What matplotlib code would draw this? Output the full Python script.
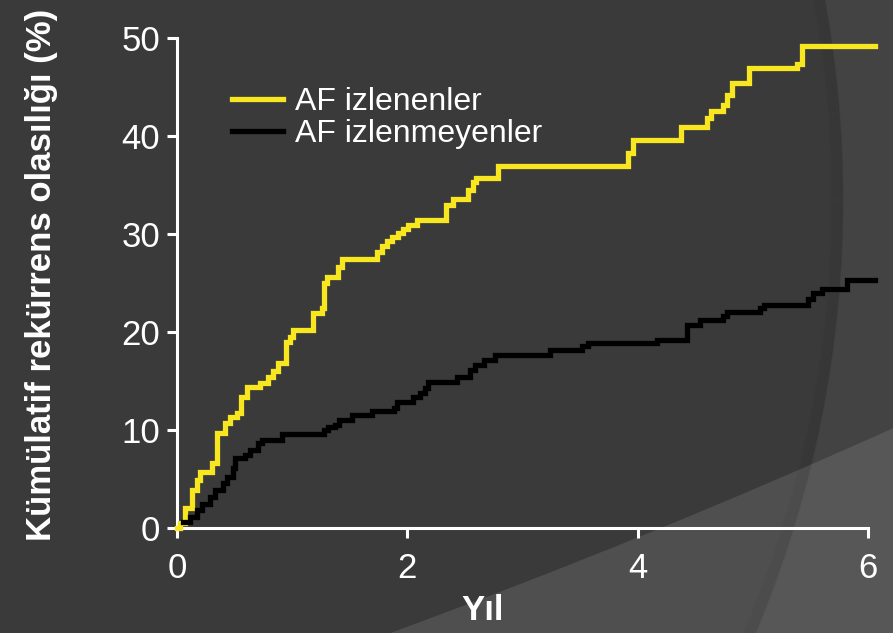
import matplotlib
matplotlib.use("Agg")
import matplotlib.pyplot as plt
from matplotlib.patches import Circle, PathPatch
from matplotlib.path import Path
from matplotlib.transforms import IdentityTransform

plt.rcParams['font.family'] = ['Liberation Sans', 'DejaVu Sans']

# ---- data ----
years_monitored = [0.0, 0.03, 0.07, 0.13, 0.17, 0.20, 0.30, 0.35, 0.42, 0.46, 0.52, 0.56, 0.61,
                   0.72, 0.79, 0.83, 0.88, 0.95, 0.98, 1.01, 1.18, 1.26, 1.28, 1.30, 1.40, 1.43,
                   1.74, 1.78, 1.82, 1.87, 1.92, 1.96, 2.01, 2.08, 2.34, 2.40, 2.53, 2.57, 2.60,
                   2.79, 3.92, 3.96, 4.38, 4.60, 4.64, 4.74, 4.78, 4.82, 4.97, 5.38, 5.43, 6.06]
risk_monitored = [0.0, 0.5, 2.0, 3.9, 4.9, 5.7, 6.6, 9.7, 10.7, 11.3, 11.7, 13.4, 14.4,
                  14.8, 15.4, 16.0, 16.8, 19.0, 19.5, 20.2, 21.9, 22.4, 25.0, 25.6, 26.6, 27.4,
                  28.2, 28.8, 29.3, 29.7, 30.1, 30.5, 30.9, 31.4, 33.0, 33.6, 34.5, 35.3, 35.7,
                  36.9, 38.3, 39.6, 40.9, 41.8, 42.5, 43.2, 44.2, 45.4, 46.9, 47.3, 49.2, 49.2]

years_unmonitored = [0.05, 0.11, 0.17, 0.22, 0.29, 0.33, 0.40, 0.43, 0.49, 0.50, 0.59, 0.63,
                     0.70, 0.74, 0.91, 1.28, 1.31, 1.37, 1.41, 1.52, 1.69, 1.88, 1.91, 2.05,
                     2.11, 2.15, 2.18, 2.43, 2.54, 2.59, 2.67, 2.76, 3.24, 3.52, 3.57, 4.17,
                     4.43, 4.54, 4.74, 4.78, 5.06, 5.10, 5.48, 5.52, 5.60, 5.82, 6.06]
risk_unmonitored = [0.6, 1.1, 1.8, 2.5, 3.2, 3.9, 4.6, 5.2, 6.1, 7.1, 7.4, 8.0,
                    8.7, 9.0, 9.6, 10.0, 10.3, 10.5, 11.0, 11.5, 11.9, 12.2, 12.9, 13.4,
                    13.8, 14.3, 14.9, 15.4, 16.1, 16.6, 17.1, 17.7, 18.2, 18.6, 18.9, 19.2,
                    20.7, 21.2, 21.6, 22.0, 22.4, 22.8, 23.4, 24.0, 24.4, 25.3, 25.3]

series_labels = ["AF izlenenler", "AF izlenmeyenler"]
x_ticks = [0, 2, 4, 6]
y_ticks = [0, 10, 20, 30, 40, 50]
x_label = "Yıl"
y_label = "Kümülatif rekürrens olasılığı (%)"

W, H = 893, 633
fig = plt.figure(figsize=(W / 100, H / 100), dpi=100, facecolor='#434343')

# ---- decorative background ----
idt = IdentityTransform()
cx, cy, R = -274, H - 200, 1117
fig.patches.append(Circle((cx, cy), R, transform=idt, facecolor='#3a3a3a',
                          edgecolor='none', zorder=-10))
for i in range(8):
    fig.patches.append(Circle((cx, cy), R - 1.5 * i, transform=idt, facecolor='none',
                              edgecolor='black', linewidth=1.5, alpha=0.03, zorder=-9))
wedge = Path([(385, -2), (650, 95), (W + 5, 207), (W + 5, -2), (385, -2)],
             [Path.MOVETO, Path.CURVE3, Path.CURVE3, Path.LINETO, Path.CLOSEPOLY])
fig.patches.append(PathPatch(wedge, transform=idt, facecolor='white', alpha=0.11,
                             edgecolor='none', zorder=-8))

# ---- axes ----
left, right = 177 / W, 868 / W
bottom, top = (H - 528) / H, (H - 38) / H
ax = fig.add_axes([left, bottom, right - left, top - bottom])
ax.set_facecolor('none')

ax.step(years_monitored, risk_monitored, where='post', color='#f7e620', linewidth=3.8,
        label=series_labels[0], clip_on=False, solid_joinstyle='miter', zorder=3)
ax.step(years_unmonitored, risk_unmonitored, where='post', color='black', linewidth=3.8,
        label=series_labels[1], clip_on=False, solid_joinstyle='miter', zorder=3)

ax.set_xlim(0, 6)
ax.set_ylim(0, 50)
ax.set_xticks(x_ticks)
ax.set_yticks(y_ticks)
for s in ['top', 'right']:
    ax.spines[s].set_visible(False)
for s in ['left', 'bottom']:
    ax.spines[s].set_color('white')
    ax.spines[s].set_linewidth(2.2)
ax.tick_params(axis='both', colors='white', width=2.2, length=7, direction='out',
               labelsize=25)
ax.tick_params(axis='x', pad=10)
ax.tick_params(axis='y', pad=5)

fig.text(42 / W, 1 - 275 / H, y_label, rotation=90, ha='center', va='center',
         color='white', fontsize=25, fontweight='bold')
fig.text(483 / W, 1 - 611 / H, x_label, ha='center', va='center',
         color='white', fontsize=25, fontweight='bold')

leg = ax.legend(loc='upper left', bbox_to_anchor=((232 - 177) / 691, (528 - 87) / 490),
                frameon=False, fontsize=23, handlelength=1.6, handletextpad=0.36,
                labelspacing=0.06, borderpad=0, borderaxespad=0)
for t in leg.get_texts():
    t.set_color('white')
for h in leg.get_lines():
    h.set_linewidth(3.8)

fig.savefig('out.png', dpi=100, facecolor=fig.get_facecolor())
